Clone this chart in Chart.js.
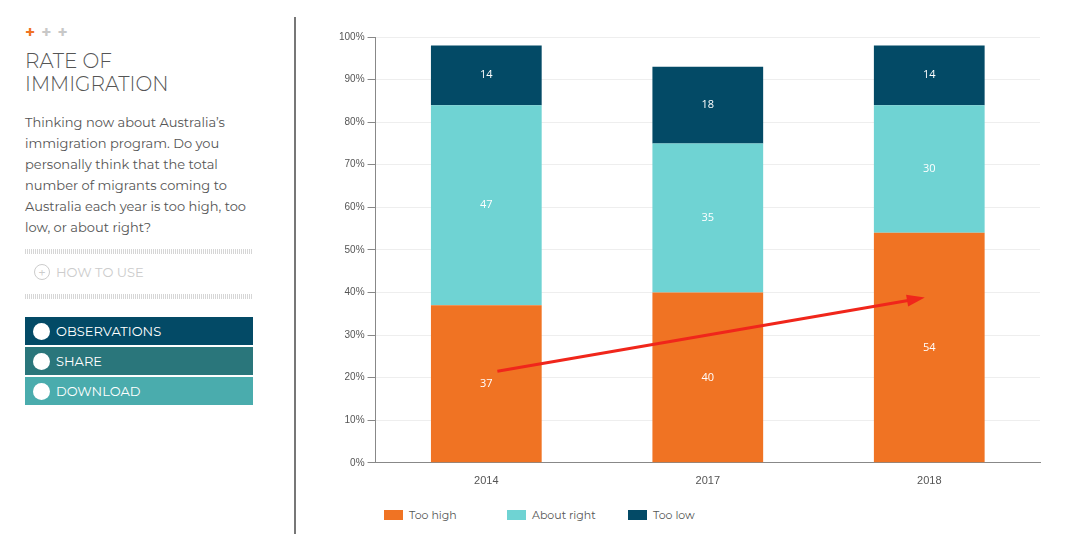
<!DOCTYPE html>
<html><head><meta charset="utf-8">
<script src="https://cdn.jsdelivr.net/npm/chart.js@4"></script>
<style>
body{margin:0;width:1080px;height:548px;background:#fff;font-family:Montserrat,"Open Sans",Lato,sans-serif;position:relative;overflow:hidden}
.plus{position:absolute;left:25px;top:22px;font-size:17px;font-weight:bold;color:#c8c8c8;letter-spacing:6px}
.plus span{color:#f07323}
h1{position:absolute;left:25px;top:50px;margin:0;font-weight:300;font-size:20px;line-height:23px;color:#555;width:250px}
.q{position:absolute;left:25px;top:112px;width:235px;font-size:13px;line-height:21px;color:#555}
.dots{position:absolute;left:25px;width:227px;height:5px;background-image:repeating-linear-gradient(90deg,#ccc 0 1px,transparent 1px 2px),repeating-linear-gradient(0deg,#fff 0 1px,transparent 1px 2px);opacity:.8}
.how{position:absolute;left:34px;top:264px;font-size:13px;color:#ccc}
.how b{display:inline-block;width:14px;height:14px;border:1.5px solid #ccc;border-radius:50%;text-align:center;line-height:14px;font-weight:normal;margin-right:6px}
.btn{position:absolute;left:25px;width:228px;height:28px;color:#fff;font-size:13px;line-height:28px}
.btn i{display:inline-block;width:17px;height:17px;border-radius:50%;background:#fff;vertical-align:middle;margin:0 6px 3px 8px}
.div{position:absolute;left:294px;top:17px;width:2px;height:517px;background:#777}
#wrap{position:absolute;left:336px;top:28px;width:714px;height:464px}
.leg{position:absolute;top:508px;font-size:11px;color:#555}
.leg i{display:inline-block;width:19px;height:10px;vertical-align:middle;margin-right:6px;margin-top:-2px}
</style></head><body>
<div class="plus"><span>+</span>++</div>
<h1>RATE OF<br>IMMIGRATION</h1>
<div class="q">Thinking now about Australia’s immigration program. Do you personally think that the total number of migrants coming to Australia each year is too high, too low, or about right?</div>
<div class="dots" style="top:249px"></div>
<div class="how"><b>+</b>HOW TO USE</div>
<div class="dots" style="top:294px"></div>
<div class="btn" style="top:317px;background:#034a66"><i></i>OBSERVATIONS</div>
<div class="btn" style="top:347px;background:#2a767b"><i></i>SHARE</div>
<div class="btn" style="top:377px;background:#4aacad"><i></i>DOWNLOAD</div>
<div class="div"></div>
<div id="wrap"><canvas id="c"></canvas></div>
<div class="leg" style="left:384px"><i style="background:#f07323"></i>Too high</div>
<div class="leg" style="left:507px"><i style="background:#6fd3d3"></i>About right</div>
<div class="leg" style="left:628px"><i style="background:#034a66"></i>Too low</div>
<script>
const categories=["2014","2017","2018"];
const tooHigh=[37,40,54];
const aboutRight=[47,35,30];
const tooLow=[14,18,14];
const arrowPlugin={id:'arrow',afterDatasetsDraw(ch){
 const x=ch.scales.x,y=ch.scales.y,c=ch.ctx;
 const x0=x.getPixelForValue(0.05),y0=y.getPixelForValue(21.5),x1=x.getPixelForValue(1.98),y1=y.getPixelForValue(38.8);
 const a=Math.atan2(y1-y0,x1-x0);
 c.save();c.strokeStyle=c.fillStyle='#f0261b';c.lineWidth=3;
 c.beginPath();c.moveTo(x0,y0);c.lineTo(x1-14*Math.cos(a),y1-14*Math.sin(a));c.stroke();
 c.beginPath();c.moveTo(x1,y1);
 c.lineTo(x1-18*Math.cos(a)+6*Math.sin(a),y1-18*Math.sin(a)-6*Math.cos(a));
 c.lineTo(x1-18*Math.cos(a)-6*Math.sin(a),y1-18*Math.sin(a)+6*Math.cos(a));
 c.closePath();c.fill();c.restore();}};
const labelPlugin={id:'lbl',afterDatasetsDraw(ch){
 const c=ch.ctx;c.save();c.fillStyle='#fff';c.font='11px "Open Sans",sans-serif';c.textAlign='center';c.textBaseline='middle';
 ch.data.datasets.forEach((ds,i)=>{ch.getDatasetMeta(i).data.forEach((b,j)=>{c.fillText(ds.data[j],b.x,(b.y+b.base)/2);});});
 c.restore();}};
new Chart(document.getElementById('c'),{type:'bar',
 data:{labels:categories,datasets:[
  {label:'Too high',data:tooHigh,backgroundColor:'#f07323'},
  {label:'About right',data:aboutRight,backgroundColor:'#6fd3d3'},
  {label:'Too low',data:tooLow,backgroundColor:'#034a66'}]},
 options:{responsive:true,maintainAspectRatio:false,animation:false,
  datasets:{bar:{categoryPercentage:0.5,barPercentage:1}},
  layout:{padding:{top:4,right:10}},
  plugins:{legend:{display:false},tooltip:{enabled:false}},
  scales:{
   x:{stacked:true,grid:{display:false,drawTicks:true},border:{color:'#888'},ticks:{color:'#555',font:{size:11},padding:4}},
   y:{stacked:true,min:0,max:100,ticks:{stepSize:10,color:'#555',font:{size:10},callback:v=>v+'%'},grid:{color:'#eee',tickLength:8,tickColor:'#888'},border:{color:'#888'}}}},
 plugins:[labelPlugin,arrowPlugin]});
</script></body></html>
